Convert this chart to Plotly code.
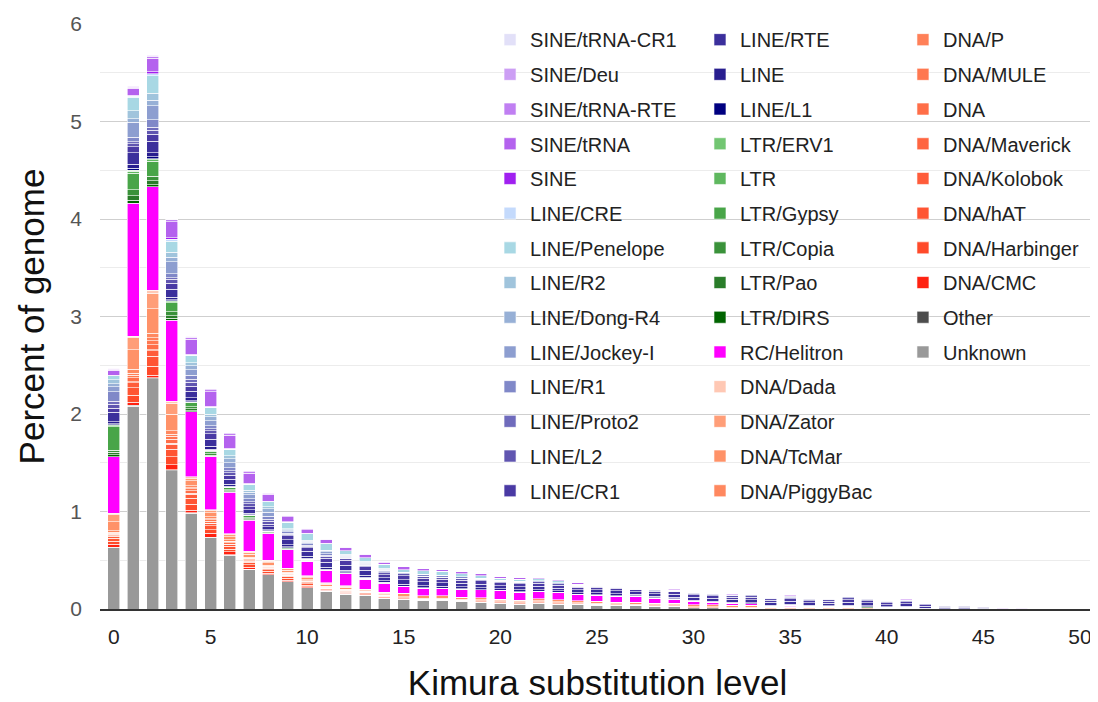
import plotly.graph_objects as go

kimura = list(range(51))
x_ticks = [0, 5, 10, 15, 20, 25, 30, 35, 40, 45, 50]

unknown = [0.63,2.08,2.36,1.42,0.98,0.73,0.55,0.41,0.35,0.28,
           0.22,0.18,0.15,0.14,0.11,0.10,0.085,0.085,0.075,0.07,
           0.06,0.05,0.06,0.05,0.045,0.04,0.035,0.035,0.03,0.03,
           0.015,0.015,0.01,0.01,0,0,0,0,0,0,
           0,0,0,0,0,0,0,0,0,0,0]
other = [0.005,0.01,0.01,0.01,0.005,0.005,0.005,0,0,0,
         0,0,0,0,0,0,0,0,0,0,
         0,0,0,0,0,0,0,0,0,0,
         0,0,0,0,0,0,0,0,0,0,
         0,0,0,0,0,0,0,0,0,0,0]
dna_cmc = [0.03,0.03,0.03,0.05,0.03,0.04,0.03,0.02,0.015,0.015,
           0.01,0.01,0.01,0.005,0.005,0.005,0.005,0.005,0.005,0.005,
           0.005,0.005,0.005,0.005,0.005,0.005,0.005,0,0,0,
           0,0,0,0,0,0,0,0,0,0,
           0,0,0,0,0,0,0,0,0,0,0]
dna_harbinger = [0.03,0.07,0.09,0.08,0.06,0.04,0.03,0.025,0.02,0.02,
                 0.015,0.01,0.01,0.01,0.01,0,0,0,0,0,
                 0,0,0,0,0,0,0,0,0,0,
                 0,0,0,0,0,0,0,0,0,0,
                 0,0,0,0,0,0,0,0,0,0,0]
dna_hat = [0.03,0.08,0.10,0.08,0.06,0.04,0.03,0.025,0.02,0.02,
           0.015,0.01,0.01,0.01,0.005,0.01,0.01,0.01,0.01,0.01,
           0.01,0.01,0.01,0.01,0.005,0.005,0.005,0.005,0.005,0.005,
           0,0,0,0,0,0,0,0,0,0,
           0,0,0,0,0,0,0,0,0,0,0]
dna_kolobok = [0.02,0.05,0.06,0.05,0.04,0.02,0.015,0.01,0.01,0.01,
               0.01,0.005,0.005,0.005,0.005,0,0,0,0,0,
               0,0,0,0,0,0,0,0,0,0,
               0,0,0,0,0,0,0,0,0,0,
               0,0,0,0,0,0,0,0,0,0,0]
dna_maverick = [0.005,0.01,0.01,0.01,0.01,0.005,0.005,0.005,0.005,0,
                0,0,0,0,0,0,0,0,0,0,
                0,0,0,0,0,0,0,0,0,0,
                0,0,0,0,0,0,0,0,0,0,
                0,0,0,0,0,0,0,0,0,0,0]
dna_dna = [0.015,0.04,0.05,0.04,0.03,0.02,0.015,0.01,0.01,0.01,
           0.01,0.005,0.005,0.005,0.005,0,0,0,0,0,
           0,0,0,0,0,0,0,0,0,0,
           0,0,0,0,0,0,0,0,0,0,
           0,0,0,0,0,0,0,0,0,0,0]
dna_mule = [0.01,0.03,0.04,0.03,0.02,0.015,0.01,0.01,0.005,0.005,
            0.005,0.005,0.005,0.005,0,0,0,0,0,0,
            0,0,0,0,0,0,0,0,0,0,
            0,0,0,0,0,0,0,0,0,0,
            0,0,0,0,0,0,0,0,0,0,0]
dna_p = [0.01,0.02,0.03,0.02,0.01,0.01,0.005,0.005,0.005,0.005,
         0.005,0.005,0.005,0,0,0,0,0,0,0,
         0,0,0,0,0,0,0,0,0,0,
         0,0,0,0,0,0,0,0,0,0,
         0,0,0,0,0,0,0,0,0,0,0]
dna_piggybac = [0.02,0.04,0.05,0.04,0.02,0.02,0.015,0.01,0.01,0.01,
                0.01,0.005,0.005,0.005,0.005,0.01,0.01,0.01,0.01,0.01,
                0.01,0.01,0.01,0.01,0.01,0.01,0.01,0.01,0.01,0.01,
                0.01,0.01,0.01,0.01,0.005,0.005,0.005,0.005,0.005,0.005,
                0,0,0,0,0,0,0,0,0,0,0]
dna_tcmar = [0.09,0.20,0.25,0.17,0.05,0.04,0.03,0.03,0.025,0.025,
             0.02,0.02,0.02,0.015,0.015,0.035,0.025,0.025,0.02,0.02,
             0.015,0.015,0.02,0.02,0.02,0.02,0.015,0.02,0.015,0.015,
             0.02,0.02,0.02,0.02,0.015,0.015,0.015,0.015,0.015,0.01,
             0.01,0.01,0.005,0,0,0,0,0,0,0,0]
dna_zator = [0.07,0.12,0.16,0.11,0.02,0.025,0.02,0.02,0.015,0.015,
             0.015,0.01,0.01,0.005,0.005,0,0,0,0,0,
             0,0,0,0,0,0,0,0,0,0,
             0,0,0,0,0,0,0,0,0,0,
             0,0,0,0,0,0,0,0,0,0,0]
dna_dada = [0.015,0.02,0.03,0.02,0.02,0.01,0.01,0.01,0.01,0.005,
            0.005,0.005,0.005,0,0.005,0,0,0,0,0,
            0,0,0,0,0,0,0,0,0,0,
            0,0,0,0,0,0,0,0,0,0,
            0,0,0,0,0,0,0,0,0,0,0]
rc_helitron = [0.58,1.36,1.06,0.83,0.67,0.54,0.43,0.32,0.27,0.19,
               0.15,0.12,0.12,0.10,0.09,0.07,0.08,0.075,0.085,0.08,
               0.085,0.08,0.07,0.07,0.06,0.06,0.06,0.06,0.05,0.04,
               0.035,0.025,0.02,0.015,0.01,0.01,0,0,0,0,
               0,0,0,0,0,0,0,0,0,0,0]
ltr_dirs = [0.02,0.03,0.02,0.02,0.01,0.005,0.005,0.005,0,0,
            0,0,0,0,0,0,0,0,0,0,
            0,0,0,0,0,0,0,0,0,0,
            0,0,0,0,0,0.01,0.01,0.01,0.01,0.01,
            0.01,0.01,0,0,0,0,0,0,0,0,0]
ltr_pao = [0.03,0.05,0.04,0.03,0.02,0.01,0.01,0.01,0.005,0.005,
           0.005,0,0,0,0,0,0,0,0,0,
           0,0,0,0,0,0,0,0,0,0,
           0,0,0,0,0,0,0,0,0,0,
           0,0,0,0,0,0,0,0,0,0,0]
ltr_copia = [0.02,0.06,0.05,0.04,0.02,0.015,0.01,0.01,0.005,0.005,
             0.005,0.005,0.005,0.005,0.005,0,0,0,0,0,
             0,0,0,0,0,0,0,0,0,0,
             0,0,0,0,0,0,0,0,0,0,
             0,0,0,0,0,0,0,0,0,0,0]
ltr_gypsy = [0.24,0.17,0.15,0.09,0.04,0.03,0.02,0.02,0.015,0.01,
             0.01,0.005,0.005,0.005,0.005,0.005,0.005,0.005,0.005,0.005,
             0.005,0.005,0.005,0.005,0.005,0.005,0.005,0.005,0.005,0.005,
             0,0,0,0,0,0,0,0,0,0,
             0,0,0,0,0,0,0,0,0,0,0]
ltr_ltr = [0.01,0.02,0.02,0.01,0.005,0.005,0.005,0.005,0.005,0,
           0,0,0,0,0,0,0,0,0,0,
           0,0,0,0,0,0,0,0,0,0,
           0,0,0,0,0,0,0,0,0,0,
           0,0,0,0,0,0,0,0,0,0,0]
ltr_erv1 = [0.01,0.01,0.01,0.01,0.005,0.005,0,0,0,0,
            0,0,0,0,0,0,0,0,0,0,
            0,0,0,0,0,0,0,0,0,0,
            0,0,0,0,0,0,0,0,0,0,
            0,0,0,0,0,0,0,0,0,0,0]
line_l1 = [0.01,0.02,0.02,0.01,0.01,0.01,0.01,0.005,0.005,0.01,
           0.01,0.01,0.01,0.01,0.005,0,0,0,0,0,
           0,0,0,0,0,0,0,0,0,0,
           0,0,0,0,0,0,0,0,0,0,
           0,0,0,0,0,0,0,0,0,0,0]
line_line = [0.02,0.04,0.04,0.03,0.03,0.03,0.02,0.015,0.01,0.02,
             0.02,0.02,0.02,0.02,0.015,0.02,0.02,0.02,0.02,0.02,
             0.02,0.02,0.02,0.015,0.015,0.02,0.02,0.015,0.015,0.015,
             0.01,0.01,0.01,0.01,0.01,0.01,0.01,0.005,0.01,0.01,
             0.005,0.01,0.005,0.005,0.005,0,0,0,0,0,0]
line_rte = [0.10,0.12,0.12,0.08,0.07,0.07,0.05,0.04,0.03,0.05,
            0.05,0.05,0.05,0.05,0.03,0.045,0.04,0.035,0.035,0.035,
            0.03,0.035,0.035,0.03,0.03,0.03,0.03,0.025,0.025,0.03,
            0.03,0.03,0.03,0.03,0.03,0.03,0.025,0.025,0.03,0.03,
            0.02,0.025,0.02,0.015,0.015,0.01,0,0,0,0,0]
line_cr1 = [0.04,0.06,0.07,0.06,0.05,0.06,0.04,0.03,0.025,0.04,
            0.04,0.04,0.05,0.04,0.03,0.04,0.035,0.035,0.03,0.035,
            0.03,0.03,0.03,0.03,0.03,0.03,0.03,0.02,0.025,0.025,
            0.025,0.025,0.02,0.025,0.02,0.025,0.02,0.02,0.025,0.02,
            0.02,0.02,0.015,0.01,0.01,0.01,0,0,0,0,0]
line_l2 = [0.04,0.03,0.04,0.04,0.04,0.03,0.03,0.03,0.03,0.015,
           0.015,0.02,0.015,0.01,0.02,0.02,0.02,0.02,0.02,0.015,
           0.015,0.015,0.015,0.015,0.01,0.01,0.01,0.01,0.005,0.005,
           0.015,0.015,0.015,0.015,0.015,0.015,0.015,0.015,0.02,0.015,
           0.01,0.01,0.01,0.005,0.005,0.005,0,0,0,0,0]
line_proto2 = [0.03,0.02,0.03,0.02,0.03,0.02,0.02,0.02,0.02,0.01,
               0.01,0.01,0.005,0.005,0.01,0,0,0,0,0,
               0,0,0,0,0,0,0,0,0,0,
               0.005,0.005,0.005,0.01,0.005,0.01,0.005,0.005,0.01,0.005,
               0.005,0.005,0,0,0,0,0,0,0,0,0]
line_r1 = [0.10,0.05,0.08,0.04,0.04,0.03,0.03,0.03,0.03,0.015,
           0.015,0.015,0.01,0.01,0.01,0.015,0.02,0.02,0.015,0.01,
           0.01,0.01,0.01,0.01,0.01,0.01,0.01,0.01,0.01,0.01,
           0.005,0.005,0.005,0.005,0.005,0.005,0.005,0.005,0.005,0.005,
           0.005,0.005,0,0,0,0,0,0,0,0,0]
line_jockey = [0.05,0.15,0.14,0.12,0.06,0.05,0.05,0.04,0.04,0.015,
               0.015,0.02,0.01,0.01,0.01,0,0,0,0,0,
               0,0,0,0,0,0,0,0,0,0,
               0,0,0,0,0,0,0,0,0,0,
               0,0,0,0,0,0,0,0,0,0,0]
line_dong = [0.03,0.04,0.06,0.05,0.04,0.04,0.04,0.03,0.04,0.01,
             0.01,0.01,0.01,0.01,0.01,0,0,0,0,0,
             0,0,0,0,0,0,0,0,0,0,
             0,0,0,0,0,0,0,0,0,0,
             0,0,0,0,0,0,0,0,0,0,0]
line_r2 = [0.04,0.08,0.07,0.05,0.03,0.03,0.03,0.02,0.02,0.01,
           0.01,0.01,0.01,0.01,0.01,0,0,0,0,0,
           0,0,0,0,0,0,0,0,0,0,
           0,0,0,0,0,0,0,0,0,0,
           0,0,0,0,0,0,0,0,0,0,0]
line_penelope = [0.04,0.14,0.18,0.11,0.07,0.07,0.07,0.06,0.05,0.065,
                 0.065,0.065,0.04,0.035,0.04,0.03,0.035,0.04,0.03,0.025,
                 0.02,0.02,0.02,0.02,0.01,0.01,0.01,0.01,0.01,0.01,
                 0,0,0,0,0,0,0,0,0,0,
                 0,0,0,0,0,0,0,0,0,0,0]
line_cre = [0,0.01,0.02,0.02,0.01,0,0,0,0,0,
            0,0,0,0,0,0,0,0,0,0,
            0,0,0,0,0,0,0,0,0,0,
            0,0,0,0,0,0,0,0,0,0,
            0,0,0,0,0,0,0,0,0,0,0]
sine_sine = [0.01,0.01,0.02,0.02,0.01,0.01,0.01,0.01,0.005,0.005,
             0.005,0.005,0,0,0,0,0,0,0,0,
             0,0,0,0,0,0,0,0,0,0,
             0,0,0,0,0,0,0,0,0,0,
             0,0,0,0,0,0,0,0,0,0,0]
sine_trna = [0.05,0.07,0.14,0.16,0.15,0.15,0.13,0.10,0.07,0.05,
             0.04,0.035,0.03,0.03,0.02,0.03,0.03,0.02,0.02,0.02,
             0.02,0.02,0.01,0.015,0.02,0.01,0.01,0.01,0.01,0.01,
             0.01,0.01,0.01,0.01,0.005,0.01,0.01,0.005,0.01,0.01,
             0.005,0.01,0.005,0.005,0.005,0.005,0.01,0,0,0,0]
sine_trna_rte = [0.01,0.01,0.02,0.02,0.02,0.02,0.02,0.02,0.01,0.01,
                 0.01,0.005,0.005,0.005,0.005,0,0,0,0,0,
                 0,0,0,0,0,0,0,0,0,0,
                 0,0,0,0,0,0,0,0,0,0,
                 0,0,0,0,0,0,0.005,0,0,0,0]
sine_deu = [0.01,0.01,0.01,0.01,0.01,0.01,0.01,0.01,0.005,0.005,
            0.005,0.005,0.005,0.005,0.005,0,0,0,0,0,
            0,0,0,0,0,0,0,0,0,0,
            0,0,0,0,0,0,0,0,0,0,
            0,0,0,0,0,0,0,0.01,0,0,0]
sine_trna_cr1 = [0,0.005,0.005,0.005,0,0,0,0,0,0,
                 0,0,0,0,0,0,0,0,0,0,
                 0,0,0,0,0,0,0,0,0,0,
                 0,0,0,0,0,0,0,0,0,0,
                 0,0,0,0,0,0,0,0.005,0,0,0]

# stack order bottom -> top: (name, values, colour, legend column)
series = [
    ("Unknown", unknown, "#999999", "legend3"),
    ("Other", other, "#4d4d4d", "legend3"),
    ("DNA/CMC", dna_cmc, "#ff2211", "legend3"),
    ("DNA/Harbinger", dna_harbinger, "#ff4a2a", "legend3"),
    ("DNA/hAT", dna_hat, "#ff5533", "legend3"),
    ("DNA/Kolobok", dna_kolobok, "#ff5c3a", "legend3"),
    ("DNA/Maverick", dna_maverick, "#ff6540", "legend3"),
    ("DNA", dna_dna, "#ff6e48", "legend3"),
    ("DNA/MULE", dna_mule, "#ff7850", "legend3"),
    ("DNA/P", dna_p, "#ff8058", "legend3"),
    ("DNA/PiggyBac", dna_piggybac, "#ff885f", "legend2"),
    ("DNA/TcMar", dna_tcmar, "#ff9268", "legend2"),
    ("DNA/Zator", dna_zator, "#ff9e78", "legend2"),
    ("DNA/Dada", dna_dada, "#ffc8b4", "legend2"),
    ("RC/Helitron", rc_helitron, "#ff00ff", "legend2"),
    ("LTR/DIRS", ltr_dirs, "#006400", "legend2"),
    ("LTR/Pao", ltr_pao, "#2a7d2a", "legend2"),
    ("LTR/Copia", ltr_copia, "#3a923a", "legend2"),
    ("LTR/Gypsy", ltr_gypsy, "#48a548", "legend2"),
    ("LTR", ltr_ltr, "#5fb85f", "legend2"),
    ("LTR/ERV1", ltr_erv1, "#72c672", "legend2"),
    ("LINE/L1", line_l1, "#000080", "legend2"),
    ("LINE", line_line, "#281e8f", "legend2"),
    ("LINE/RTE", line_rte, "#3b2f9c", "legend2"),
    ("LINE/CR1", line_cr1, "#4a3aa4", "legend"),
    ("LINE/L2", line_l2, "#6055b0", "legend"),
    ("LINE/Proto2", line_proto2, "#6f6bbc", "legend"),
    ("LINE/R1", line_r1, "#8088c8", "legend"),
    ("LINE/Jockey-I", line_jockey, "#8d9ed0", "legend"),
    ("LINE/Dong-R4", line_dong, "#97b0d6", "legend"),
    ("LINE/R2", line_r2, "#a0c4dc", "legend"),
    ("LINE/Penelope", line_penelope, "#a8d8e4", "legend"),
    ("LINE/CRE", line_cre, "#c4dafc", "legend"),
    ("SINE", sine_sine, "#a020f0", "legend"),
    ("SINE/tRNA", sine_trna, "#b462ee", "legend"),
    ("SINE/tRNA-RTE", sine_trna_rte, "#c07ff2", "legend"),
    ("SINE/Deu", sine_deu, "#cc9ef4", "legend"),
    ("SINE/tRNA-CR1", sine_trna_cr1, "#e2e0f8", "legend"),
]

FONT = "Liberation Sans, Arial, sans-serif"

fig = go.Figure()
n = len(series)
for i, (name, vals, col, leg) in enumerate(series):
    fig.add_trace(go.Bar(
        x=kimura, y=vals, name=name, legend=leg, legendgroup=name,
        legendrank=n - i,
        marker=dict(color=col, line=dict(color="white", width=0.6)),
    ))

leg_common = dict(
    yanchor="top", xanchor="left", y=1.0066, maxheight=690,
    traceorder="grouped", tracegroupgap=5.7,
    font=dict(family=FONT, size=20, color="#222222"),
    bgcolor="rgba(0,0,0,0)", itemclick=False, itemdoubleclick=False,
)

fig.update_layout(
    width=1090, height=694,
    margin=dict(l=92, r=3, t=16, b=93),
    paper_bgcolor="white", plot_bgcolor="white",
    barmode="stack", bargap=0.38,
    font=dict(family=FONT, color="#222222"),
    legend=dict(x=0.392, **leg_common),
    legend2=dict(x=0.603, **leg_common),
    legend3=dict(x=0.807, **leg_common),
    xaxis=dict(
        range=[-0.72, 50.78], tickvals=x_ticks, showgrid=False, zeroline=False,
        showline=True, linecolor="#333333", linewidth=2, automargin=False,
        ticks="", tickfont=dict(size=21, color="#222222"),
        ticklabelstandoff=8,
        title=dict(text="Kimura substitution level", font=dict(size=35, color="#111111"), standoff=23),
    ),
    yaxis=dict(
        range=[0, 6], dtick=1, showgrid=True, gridcolor="#cfcfcf", gridwidth=1,
        minor=dict(dtick=0.5, showgrid=True, gridcolor="#ececec"),
        zeroline=False, ticks="", tickfont=dict(size=21, color="#555555"),
        ticklabelstandoff=17, automargin=False,
        title=dict(text="Percent of genome", font=dict(size=35, color="#111111"), standoff=15),
    ),
)

fig.write_html("out.html")
